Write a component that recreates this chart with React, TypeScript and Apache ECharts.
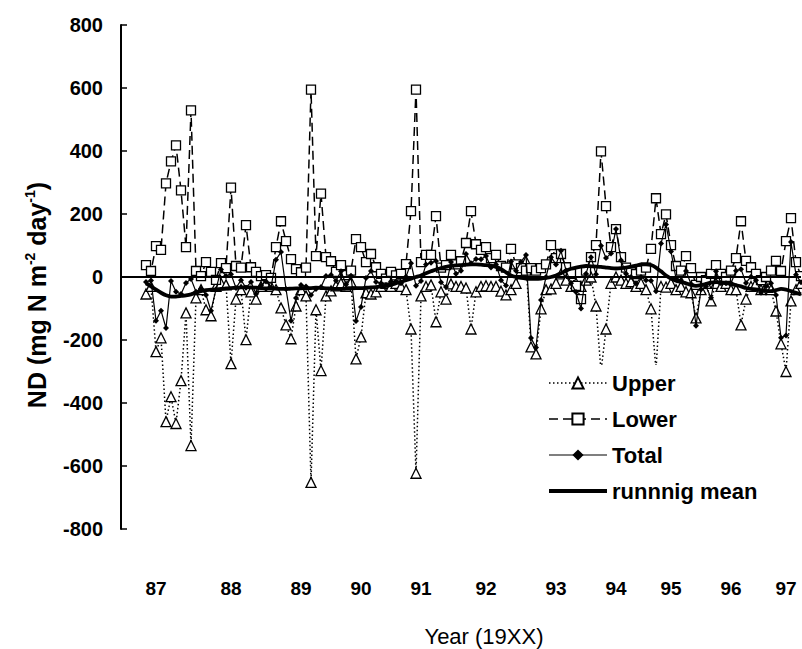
import React, { useEffect, useRef } from "react";
import * as echarts from "echarts";

// sample sequence (category axis: one entry per sampling date)
const sampleCount = 137;
const samples: string[] = Array.from({ length: sampleCount }, (_, i) => "s" + i);

// year tick labels and the sample at which each year label sits
const yearLabels = ["87", "88", "89", "90", "91", "92", "93", "94", "95", "96", "97"];
const yearLabelSample = [7, 22, 36, 48, 60, 73, 87, 99, 110, 122, 133];

const yTicks = { min: -800, max: 800, step: 200 };

// ND values (mg N m-2 day-1)
const upper: (number | null)[] = [
  null, null, null, null, null,
  -54, -30, -237, -193, -459, -380, -465, -329, -114, -535,
  -66, -40, -104, -123, -30, -20, -25, -275, -70, -40,
  -199, -47, -70, -30, -20, -30, -40, -98, -152, -196,
  -92, -40, -60, -652, -104, -297, -60, -44, -28, -20,
  -30, -16, -260, -190, -50, -54, -47, -30, -20, -30,
  -20, -30, -40, -165, -623, -60, -30, -25, -142, -47,
  -70, -22, -30, -30, -35, -165, -47, -30, -28, -30,
  -30, -45, -57, -40, -20, 20, 50, -222, -244, -101,
  -40, -38, -20, 10, -10, -30, -20, -30, -10, 0,
  -92, -300, -165, -20, 0, -10, -20, -15, -30, -20,
  -40, -101, -295, -30, -32, -20, -40, -30, -47, -50,
  -130, -40, -20, -76, -20, -30, -20, -40, -40, -152,
  -70, -30, -20, -40, -30, -40, -108, -212, -300, -76,
  -40, -20,
];

const lower: (number | null)[] = [
  null, null, null, null, null,
  38, 19, 98, 86, 297, 367, 418, 275, 95, 529,
  19, 3, 47, 16, -9, 44, 28, 284, 35, 30,
  165, 31, 16, 3, 6, -3, 95, 177, 114, 57,
  25, 15, 30, 595, 66, 265, 63, 50, 16, 38,
  6, 20, 120, 95, 47, 73, 31, 10, -5, 16,
  5, 10, 41, 209, 595, 47, 70, 70, 193, 30,
  38, 70, 40, 50, 108, 209, 104, 86, 95, 60,
  70, 35, 30, 89, 40, 28, 20, 28, 20, 28,
  40, 101, 60, 73, 31, 10, -28, -70, 20, 63,
  101, 399, 225, 95, 152, 63, 30, 15, 9, 20,
  30, 89, 250, 136, 199, 101, 35, 20, 66, 28,
  -25, 0, -10, 10, 38, 10, 0, 20, 60, 177,
  51, 31, 10, -10, 0, 20, 51, 19, 114, 187,
  47, 3,
];

const total: (number | null)[] = [
  null, null, null, null, null,
  -16, -11, -139, -107, -162, -13, -47, -54, -19, -6,
  -47, -37, -57, -107, -39, 24, 3, 9, -35, -10,
  -34, -16, -54, -27, -14, -33, 55, 79, -38, -139,
  -67, -25, -30, -57, -38, -32, 3, 6, -12, 18,
  -24, 4, -140, -95, -3, 19, -16, -20, -25, -14,
  -15, -20, 1, 44, -28, -13, 40, 45, 51, -17,
  -32, 48, 10, 20, 73, 44, 57, 56, 67, 30,
  40, -10, -27, 49, 20, 48, 70, -194, -224, -73,
  0, 63, 40, 83, 21, -20, -48, -100, 10, 63,
  9, 99, 60, 75, 152, 53, 10, 0, -21, 0,
  -10, -12, -45, 106, 167, 81, -5, -10, 19, -22,
  -155, -40, -30, -66, 18, -20, -20, -20, 20, 25,
  -19, 1, -10, -50, -30, -20, -57, -193, -186, 111,
  7, -17,
];

const runningMean: (number | null)[] = [
  null, null, null, null, null,
  -20, -30, -40, -50, -58, -62, -62, -60, -58, -55,
  -50, -45, -42, -40, -40, -38, -36, -35, -34, -33,
  -32, -33, -34, -35, -36, -36, -37, -38, -38, -37,
  -36, -36, -35, -35, -34, -35, -36, -37, -38, -38,
  -37, -36, -35, -35, -34, -33, -32, -30, -28, -25,
  -20, -15, -10, -5, 0, 5, 12, 18, 24, 28,
  32, 35, 37, 38, 39, 40, 40, 39, 38, 36,
  32, 25, 15, 5, 0, -3, -5, -6, -6, -5,
  -3, 0, 5, 12, 20, 26, 30, 33, 35, 34,
  33, 32, 30, 28, 27, 28, 30, 33, 36, 40,
  40, 38, 30, 18, 5, -5, -12, -16, -20, -25,
  -28, -26, -22, -18, -16, -18, -20, -22, -26, -30,
  -35, -38, -40, -42, -44, -45, -42, -38, -40, -45,
  -50, -55,
];

const FONT = "'Liberation Sans', Arial, sans-serif";

export default function App() {
  const ref = useRef<HTMLDivElement>(null);
  useEffect(() => {
    if (!ref.current) return;
    const chart = echarts.init(ref.current, null, { renderer: "svg" });
    const hollow = { color: "#fff", borderColor: "#000", borderWidth: 1.3 };
    chart.setOption({
      animation: false,
      backgroundColor: "#fff",
      grid: { left: 121, right: 1, top: 25, bottom: 120, containLabel: false },
      legend: {
        orient: "vertical",
        left: 542,
        top: 365,
        padding: [7, 5, 5, 5],
        itemWidth: 58,
        itemHeight: 14,
        itemGap: 14,
        backgroundColor: "#fff",
        data: [
          { name: "Upper", lineStyle: { width: 1.5, color: "#000", type: [1.5, 2.5] } },
          { name: "Lower", lineStyle: { width: 1.5, color: "#000", type: [9, 5] } },
          { name: "Total", lineStyle: { width: 1.2, color: "#000", type: "solid" } },
          {
            name: "runnnig mean",
            itemStyle: { opacity: 0 },
            lineStyle: { width: 4, color: "#000", type: "solid" },
          },
        ],
        textStyle: { fontFamily: FONT, fontSize: 22, fontWeight: "bold", color: "#000" },
      },
      xAxis: {
        type: "category",
        data: samples,
        boundaryGap: false,
        axisLine: { show: false },
        axisTick: { show: false },
        splitLine: { show: false },
        axisLabel: {
          margin: 50,
          interval: (idx: number) => yearLabelSample.indexOf(idx) >= 0,
          formatter: (_v: string, idx: number) => {
            const k = yearLabelSample.indexOf(idx);
            return k >= 0 ? yearLabels[k] : "";
          },
          fontFamily: FONT,
          fontSize: 19,
          fontWeight: "bold",
          color: "#000",
        },
      },
      yAxis: {
        type: "value",
        min: yTicks.min,
        max: yTicks.max,
        interval: yTicks.step,
        axisLine: { show: true, lineStyle: { color: "#000", width: 2 } },
        axisTick: { show: true, inside: true, length: 6, lineStyle: { color: "#000", width: 1.5 } },
        splitLine: { show: false },
        axisLabel: { margin: 18, fontFamily: FONT, fontSize: 20, fontWeight: "bold", color: "#000" },
      },
      graphic: [
        {
          type: "text",
          x: 37,
          y: 295,
          rotation: Math.PI / 2,
          style: {
            text: "{a|ND (mg N m}{s|-2}{a| day}{s|-1}{a|)}",
            align: "center",
            verticalAlign: "middle",
            fill: "#000",
            rich: {
              a: { fontFamily: FONT, fontSize: 25, fontWeight: "bold", lineHeight: 29, fill: "#000" },
              s: { fontFamily: FONT, fontSize: 14, fontWeight: "bold", lineHeight: 29, verticalAlign: "top", fill: "#000" },
            },
          },
        },
        {
          type: "text",
          x: 484,
          y: 636,
          style: {
            text: "Year (19XX)",
            align: "center",
            verticalAlign: "middle",
            fontFamily: FONT,
            fontSize: 22,
            fill: "#000",
          },
        },
      ],
      series: [
        {
          name: "Upper",
          type: "line",
          data: upper,
          symbol: "triangle",
          symbolSize: 10,
          showAllSymbol: true,
          itemStyle: hollow,
          lineStyle: { color: "#000", width: 1.5, type: [1.5, 2.5] },
          z: 3,
        },
        {
          name: "Lower",
          type: "line",
          data: lower,
          symbol: "rect",
          symbolSize: 9,
          showAllSymbol: true,
          itemStyle: hollow,
          lineStyle: { color: "#000", width: 1.5, type: [9, 5] },
          z: 3,
        },
        {
          name: "Total",
          type: "line",
          data: total,
          symbol: "diamond",
          symbolSize: 6,
          showAllSymbol: true,
          itemStyle: { color: "#000" },
          lineStyle: { color: "#000", width: 1.2 },
          z: 4,
          markLine: {
            silent: true,
            symbol: "none",
            label: { show: false },
            lineStyle: { color: "#000", width: 2, type: "solid" },
            data: [{ yAxis: 0 }],
          },
        },
        {
          name: "runnnig mean",
          type: "line",
          data: runningMean,
          symbol: "none",
          smooth: 0.2,
          itemStyle: { color: "#000" },
          lineStyle: { color: "#000", width: 3.8 },
          z: 5,
        },
      ],
    });
    return () => chart.dispose();
  }, []);
  return (
    <div
      ref={ref}
      style={{ position: "fixed", left: 0, top: 0, width: 802, height: 649, background: "#fff" }}
    />
  );
}
